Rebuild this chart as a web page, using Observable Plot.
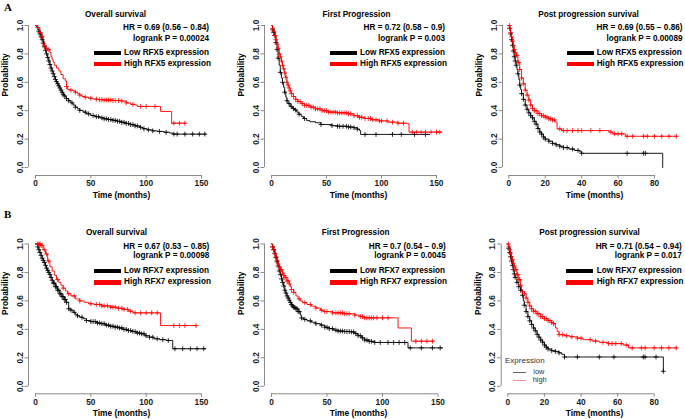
<!DOCTYPE html>
<html>
<head>
<meta charset="utf-8">
<script src="https://cdn.jsdelivr.net/npm/d3@7"></script>
<script src="https://cdn.jsdelivr.net/npm/@observablehq/plot@0.6"></script>
<style>
  html, body { margin: 0; padding: 0; background: #fff; }
  #root { position: relative; width: 685px; height: 419px; overflow: hidden; font-family: "Liberation Sans", Arial, sans-serif; }
  .panel { position: absolute; }
  .panel svg { position: absolute; left: 0; top: 0; }
  .ov { position: absolute; white-space: nowrap; line-height: 1; }
  .bar { position: absolute; }
  .letter { position: absolute; font-family: "Liberation Serif", "Times New Roman", serif; font-weight: bold; font-size: 11px; line-height: 1; }
</style>
</head>
<body>
<div id="root"></div>
<script>
// ---------------- DATA ----------------
const panelTitles = ["Overall survival", "First Progression", "Post progression survival"];
const genes = ["RFX5", "RFX7"];
const hrLabels = [
  "HR = 0.69 (0.56 \u2212 0.84)", "HR = 0.72 (0.58 \u2212 0.9)", "HR = 0.69 (0.55 \u2212 0.86)",
  "HR = 0.67 (0.53 \u2212 0.85)", "HR = 0.7 (0.54 \u2212 0.9)", "HR = 0.71 (0.54 \u2212 0.94)"
];
const pLabels = [
  "logrank P = 0.00024", "logrank P = 0.003", "logrank P = 0.00089",
  "logrank P = 0.00098", "logrank P = 0.0045", "logrank P = 0.017"
];
const yTicks = [0, 0.2, 0.4, 0.6, 0.8, 1];
const xTicksLong = [0, 50, 100, 150];
const xTicksShort = [0, 20, 40, 60, 80];

// Kaplan-Meier step curves [time (months), probability]
const rfx5OsLow = [[0,1],[1,0.99],[2,0.975],[3,0.96],[4,0.94],[5,0.92],[6,0.9],[7,0.875],[8,0.85],[9,0.825],[10,0.8],[11,0.775],[12,0.75],[13,0.725],[14,0.7],[15,0.68],[16,0.66],[17,0.64],[18,0.62],[19,0.605],[20,0.59],[21,0.575],[22,0.56],[23,0.545],[24,0.53],[25,0.515],[26,0.505],[27,0.495],[28,0.485],[30,0.47],[32,0.455],[34,0.44],[36,0.425],[38,0.413],[40,0.402],[43,0.39],[46,0.378],[50,0.366],[54,0.358],[58,0.35],[62,0.343],[66,0.338],[70,0.332],[74,0.325],[78,0.318],[82,0.31],[86,0.302],[90,0.293],[94,0.283],[97,0.273],[101,0.265],[106,0.258],[110,0.254],[116,0.248],[121,0.243],[124,0.235],[154,0.235]];
const rfx5OsHigh = [[0,1],[2,0.985],[4,0.95],[6,0.92],[7,0.89],[8,0.86],[9,0.84],[11,0.83],[13,0.81],[14,0.78],[15,0.76],[16,0.74],[17,0.72],[19,0.7],[21,0.68],[23,0.655],[25,0.625],[27,0.61],[28,0.57],[29,0.55],[31,0.545],[34,0.54],[36,0.53],[38,0.52],[40,0.51],[42,0.5],[45,0.495],[48,0.488],[52,0.482],[56,0.478],[62,0.475],[70,0.472],[78,0.468],[82,0.455],[86,0.445],[90,0.44],[92,0.43],[113,0.395],[123,0.312],[136,0.312]];
const rfx5FpLow = [[0,1],[1,0.97],[2,0.95],[3,0.93],[4,0.88],[5,0.83],[6,0.77],[7,0.72],[8,0.67],[9,0.63],[10,0.6],[11,0.565],[12,0.53],[13,0.495],[14,0.47],[15,0.45],[17,0.43],[19,0.415],[21,0.405],[23,0.39],[25,0.375],[27,0.36],[29,0.345],[32,0.33],[35,0.322],[40,0.315],[45,0.303],[55,0.295],[60,0.29],[70,0.285],[75,0.28],[78,0.27],[80,0.26],[81,0.233],[144,0.233]];
const rfx5FpHigh = [[0,1],[1,0.98],[2,0.96],[3,0.93],[4,0.9],[5,0.87],[6,0.84],[7,0.8],[8,0.78],[9,0.75],[10,0.72],[11,0.695],[12,0.665],[13,0.635],[14,0.6],[15,0.58],[16,0.56],[17,0.54],[18,0.52],[20,0.5],[22,0.48],[24,0.465],[27,0.45],[30,0.438],[35,0.425],[40,0.413],[46,0.4],[52,0.39],[60,0.385],[70,0.378],[75,0.365],[79,0.354],[85,0.345],[91,0.336],[98,0.328],[106,0.319],[115,0.312],[123,0.308],[125,0.249],[155,0.249]];
const rfx5PpsLow = [[0,1],[0.5,0.98],[1,0.94],[1.5,0.9],[2,0.86],[2.5,0.82],[3,0.78],[3.5,0.75],[4,0.72],[4.5,0.69],[5,0.66],[5.5,0.62],[6,0.58],[6.5,0.55],[7,0.52],[8,0.48],[9,0.44],[10,0.41],[11,0.385],[12,0.365],[13,0.35],[14,0.325],[15,0.305],[16,0.275],[17,0.25],[18,0.235],[19,0.215],[20,0.2],[22,0.185],[24,0.17],[26,0.16],[28,0.15],[30,0.14],[33,0.13],[36,0.12],[39,0.11],[40,0.1],[84.5,0]];
const rfx5PpsHigh = [[0,1],[0.5,0.98],[1,0.95],[1.5,0.92],[2,0.89],[2.5,0.86],[3,0.83],[3.5,0.81],[4,0.79],[5,0.74],[6,0.69],[7,0.63],[8,0.59],[9,0.545],[10,0.51],[11,0.475],[12,0.44],[13,0.415],[14,0.4],[16,0.38],[18,0.365],[20,0.355],[22,0.343],[24,0.335],[25.5,0.32],[26.5,0.272],[29,0.26],[55,0.25],[57,0.237],[64,0.22],[92.5,0.22]];
const rfx7OsLow = [[0,1],[2,0.98],[3,0.96],[4,0.94],[5,0.92],[6,0.9],[7,0.885],[8,0.87],[9,0.85],[10,0.83],[11,0.815],[12,0.8],[13,0.785],[14,0.765],[15,0.745],[16,0.725],[18,0.7],[20,0.675],[22,0.65],[24,0.63],[26,0.61],[28,0.59],[30,0.545],[32,0.535],[34,0.52],[36,0.505],[38,0.495],[40,0.485],[43,0.475],[46,0.462],[50,0.455],[55,0.445],[59,0.44],[63,0.43],[67,0.422],[71,0.416],[75,0.41],[79,0.4],[83,0.392],[87,0.385],[91,0.375],[95,0.369],[99,0.355],[103,0.345],[107,0.334],[112,0.328],[118,0.322],[124,0.264],[154,0.264]];
const rfx7OsHigh = [[0,1],[5,0.99],[7,0.96],[9,0.93],[11,0.88],[13,0.84],[15,0.81],[17,0.78],[19,0.75],[21,0.73],[23,0.71],[25,0.69],[27,0.67],[29,0.65],[32,0.635],[36,0.614],[40,0.6],[44,0.59],[48,0.58],[53,0.575],[60,0.565],[68,0.556],[74,0.548],[80,0.54],[84,0.528],[88,0.516],[113,0.427],[146,0.427]];
const rfx7FpLow = [[0,1],[1,0.98],[2,0.96],[3,0.935],[4,0.905],[5,0.875],[6,0.845],[7,0.81],[8,0.785],[9,0.755],[10,0.73],[11,0.705],[12,0.675],[13,0.655],[14,0.635],[15,0.62],[16,0.605],[17,0.59],[18,0.575],[19,0.565],[20,0.555],[22,0.545],[24,0.525],[26,0.5],[27,0.48],[29,0.47],[32,0.46],[36,0.45],[40,0.44],[44,0.43],[48,0.415],[52,0.405],[56,0.395],[60,0.388],[66,0.385],[72,0.382],[75,0.37],[78,0.356],[81,0.34],[84,0.325],[88,0.316],[93,0.308],[123,0.27],[154,0.27]];
const rfx7FpHigh = [[0,1],[1,0.98],[2,0.96],[3,0.93],[4,0.91],[5,0.885],[6,0.86],[7,0.84],[8,0.82],[10,0.795],[11,0.78],[12,0.765],[14,0.74],[16,0.72],[17,0.7],[18,0.68],[20,0.66],[22,0.635],[24,0.615],[26,0.6],[28,0.588],[32,0.575],[36,0.563],[40,0.55],[44,0.535],[47,0.525],[55,0.516],[65,0.51],[75,0.5],[80,0.49],[84,0.481],[114,0.41],[126,0.317],[146,0.317]];
const rfx7PpsLow = [[0,1],[0.5,0.97],[1,0.94],[1.5,0.91],[2,0.88],[2.5,0.85],[3,0.82],[3.5,0.79],[4,0.765],[5,0.73],[6,0.7],[7,0.675],[8,0.64],[8.5,0.6],[9,0.57],[10,0.525],[11,0.49],[12,0.46],[13,0.435],[14,0.41],[15,0.39],[16,0.365],[17,0.345],[18,0.325],[19,0.31],[20,0.29],[21,0.275],[22,0.262],[24,0.25],[26,0.245],[28,0.235],[29.5,0.225],[31,0.206],[85,0.105]];
const rfx7PpsHigh = [[0,1],[0.5,0.98],[1,0.96],[1.5,0.935],[2,0.91],[2.5,0.89],[3,0.865],[3.5,0.845],[4,0.82],[5,0.785],[6,0.75],[7,0.71],[7.5,0.675],[8,0.665],[9,0.65],[10,0.62],[11,0.59],[12,0.565],[13,0.545],[14,0.527],[16,0.51],[18,0.49],[20,0.475],[22,0.462],[24,0.448],[25,0.44],[26,0.41],[27,0.385],[28,0.363],[31,0.355],[34,0.348],[38,0.338],[41,0.328],[46,0.318],[50,0.309],[55,0.3],[63,0.29],[66,0.27],[92.5,0.27]];

// Censoring times (months)
const rfx5OsLowCens = [3,4,5,6,7,8,9,10,11,12,13,14,15,16,17,18,19,20,21,22,23,24,25,26,28,30,33,36,40,45,48,52,55,57,60,62,64,66,68,70,72,74,76,78,80,82,84,86,88,90,92,95,98,102,106,112,118,125,128,135,142,148,153];
const rfx5OsHighCens = [2,4,6,8,10,12,28,32,36,40,45,50,55,58,60,62,64,66,68,70,72,75,78,82,88,95,100,108,125,130,135];
const rfx5FpLowCens = [1,2,3,4,5,6,8,10,12,14,16,18,20,22,25,30,45,55,60,62,65,68,70,72,75,78,85,95,110,118,130,140];
const rfx5FpHighCens = [1,2,3,4,5,6,7,8,9,10,11,12,13,14,15,16,17,18,20,22,24,26,28,30,32,34,36,38,40,42,44,46,48,50,52,54,56,58,60,62,64,66,68,70,72,75,78,80,82,85,88,90,92,95,98,100,105,110,115,120,128,132,136,140,145,150,153];
const rfx5PpsLowCens = [0.5,1,1.5,2,2.5,3,3.5,4,5,6,7,8,9,10,11,12,13,14,15,16,17,18,19,20,22,24,26,28,30,32,35,38,40,65,74,75];
const rfx5PpsHighCens = [0.3,0.6,1,1.5,2,2.5,3,3.5,4,4.5,5,5.5,6,7,8,9,10,11,12,13,14,15,16,17,18,19,20,21,22,23,24,25,28,30,32,35,38,40,45,50,56,58,60,62,65,68,74,76,80,84,88,92];
const rfx7OsLowCens = [2,3,4,5,6,7,8,9,10,11,12,13,14,15,16,17,18,19,20,21,22,23,24,25,26,27,28,30,32,35,38,42,46,50,52,54,56,58,60,62,64,66,68,70,72,74,76,78,80,82,84,86,88,90,92,94,96,98,100,103,106,110,115,120,126,133,140,146,152];
const rfx7OsHighCens = [2,3,4,5,6,8,10,12,20,25,30,35,40,50,55,58,60,62,65,68,70,72,75,78,80,83,86,90,95,100,105,110,125,130,135,145];
const rfx7FpLowCens = [1,2,3,4,5,6,7,8,9,10,11,12,13,14,15,16,17,18,19,20,21,22,23,24,25,27,30,35,40,45,48,50,52,55,58,60,62,64,66,68,70,72,74,76,78,80,82,84,86,88,90,93,98,105,110,115,120,125,135,145,152];
const rfx7FpHighCens = [1,2,3,4,5,6,7,8,9,10,11,12,13,14,15,16,18,20,25,30,35,40,45,48,50,55,58,60,62,64,66,68,70,75,80,82,84,86,88,90,92,95,100,105,130,135,140,145];
const rfx7PpsLowCens = [0.5,1,1.5,2,2.5,3,3.5,4,5,6,7,8,9,10,11,12,13,14,15,16,17,18,19,20,21,22,24,26,28,31,38,50,58,74,75,81,85];
const rfx7PpsHighCens = [0.3,0.6,1,1.5,2,2.5,3,3.5,4,4.5,5,5.5,6,6.5,7,8,9,10,11,12,13,14,15,16,17,18,19,20,21,22,23,24,25,28,30,32,35,38,40,45,48,52,55,57,59,62,65,68,73,75,80,84,88,92];

const expressionLegend = ["Expression", "low", "high"];

// ---------------- LAYOUT ----------------
const panels = [
  {low: rfx5OsLow, high: rfx5OsHigh, lowC: rfx5OsLowCens, highC: rfx5OsHighCens, row: 0, col: 0,
   left: 0, top: 0, w: 228, h: 200, ml: 28, mr: 27, mt: 25, mb: 25, il: 7, ib: 8, titleDx: 0.5, xlabDx: 6.5, hrRight: 209, barLeft: 94, textLeft: 124},
  {low: rfx5FpLow, high: rfx5FpHigh, lowC: rfx5FpLowCens, highC: rfx5FpHighCens, row: 0, col: 1,
   left: 228, top: 0, w: 228, h: 200, ml: 36, mr: 20, mt: 25, mb: 25, il: 7, ib: 8, titleDx: 6, xlabDx: 8, hrRight: 217, barLeft: 102, textLeft: 132},
  {low: rfx5PpsLow, high: rfx5PpsHigh, lowC: rfx5PpsLowCens, highC: rfx5PpsHighCens, row: 0, col: 2,
   left: 456, top: 0, w: 229, h: 200, ml: 46, mr: 31, mt: 25, mb: 25, il: 6.3, ib: 8, titleDx: 10, xlabDx: 16, hrRight: 226.5, barLeft: 110.7, textLeft: 140.7},
  {low: rfx7OsLow, high: rfx7OsHigh, lowC: rfx7OsLowCens, highC: rfx7OsHighCens, row: 1, col: 0,
   left: 0, top: 205, w: 228, h: 214, ml: 28, mr: 27, mt: 38.5, mb: 25.7, il: 7, ib: 7.5, titleDx: 1.5, xlabDx: 6.5, hrRight: 209.3, barLeft: 93.5, textLeft: 124},
  {low: rfx7FpLow, high: rfx7FpHigh, lowC: rfx7FpLowCens, highC: rfx7FpHighCens, row: 1, col: 1,
   left: 228, top: 205, w: 228, h: 214, ml: 36, mr: 18.5, mt: 38.5, mb: 25.7, il: 7, ib: 7.5, titleDx: 4.3, xlabDx: 7.3, hrRight: 217.7, barLeft: 101.5, textLeft: 132},
  {low: rfx7PpsLow, high: rfx7PpsHigh, lowC: rfx7PpsLowCens, highC: rfx7PpsHighCens, row: 1, col: 2,
   left: 456, top: 205, w: 229, h: 214, ml: 44.7, mr: 31.3, mt: 38.5, mb: 25.7, il: 6.6, ib: 7.5, titleDx: 11.8, xlabDx: 16.8, hrRight: 225.7, barLeft: 110, textLeft: 140.7, exprLegend: true}
];

const FONT = "'Liberation Sans', Arial, Helvetica, sans-serif";
const AXIS_COL = "#8a8a8a";
const TEXT_COL = "#1a1a1a";

function stepAt(curve, t) {
  let s = curve[0][1];
  for (const [ct, cs] of curve) { if (ct <= t) s = cs; else break; }
  return s;
}

function addText(parent, txt, o) {
  const d = document.createElement("div");
  d.className = "ov";
  d.textContent = txt;
  const size = o.size || 8.2;
  d.style.fontSize = size + "px";
  d.style.fontWeight = o.weight || "bold";
  d.style.color = o.color || "#000";
  d.style.top = (o.cy - size * 0.5) + "px";
  if (o.right != null) { d.style.right = o.right + "px"; d.style.textAlign = "right"; }
  else d.style.left = o.left + "px";
  parent.appendChild(d);
}
function addBar(parent, o) {
  const b = document.createElement("div");
  b.className = "bar";
  b.style.left = o.left + "px"; b.style.top = (o.cy - o.h / 2) + "px";
  b.style.width = o.w + "px"; b.style.height = o.h + "px";
  b.style.background = o.color;
  parent.appendChild(b);
}

const root = document.getElementById("root");

panels.forEach((p, i) => {
  const xmax = p.col === 2 ? 80 : 150;
  const xticks = p.col === 2 ? xTicksShort : xTicksLong;
  const wrap = document.createElement("div");
  wrap.className = "panel";
  Object.assign(wrap.style, {left: p.left + "px", top: p.top + "px", width: p.w + "px", height: p.h + "px"});
  root.appendChild(wrap);

  const lowCens = p.lowC.map(t => ({t, s: stepAt(p.low, t)}));
  const highCens = p.highC.map(t => ({t, s: stepAt(p.high, t)}));

  const chart = Plot.plot({
    width: p.w, height: p.h,
    marginLeft: p.ml, marginRight: p.mr, marginTop: p.mt, marginBottom: p.mb,
    x: {domain: [0, xmax], insetLeft: p.il},
    y: {domain: [0, 1], insetBottom: p.ib},
    style: {fontFamily: FONT, fontSize: "8px", fontWeight: "bold", background: "transparent", overflow: "visible", color: TEXT_COL},
    marks: [
      Plot.ruleY([0], {x1: 0, x2: xmax, dy: p.ib, stroke: AXIS_COL, strokeWidth: 1}),
      Plot.ruleX([0], {y1: 0, y2: 1, dx: -p.il, stroke: AXIS_COL, strokeWidth: 1}),
      Plot.axisX({ticks: xticks, tickSize: 3.5, tickPadding: 1.5, stroke: AXIS_COL, fill: TEXT_COL, label: null, fontSize: 8.3}),
      Plot.axisY({ticks: yTicks, tickSize: 3.5, tickPadding: 2.5, tickRotate: -90, tickFormat: d3.format(".1f"), stroke: AXIS_COL, fill: TEXT_COL, label: null, fontSize: 8.3}),
      Plot.line(p.low, {x: d => d[0], y: d => d[1], curve: "step-after", stroke: "#000", strokeWidth: 0.9}),
      Plot.line(p.high, {x: d => d[0], y: d => d[1], curve: "step-after", stroke: "#ff0000", strokeWidth: 0.9}),
      Plot.dot(lowCens, {x: "t", y: "s", symbol: "plus", r: 1.7, stroke: "#000", strokeWidth: 0.8}),
      Plot.dot(highCens, {x: "t", y: "s", symbol: "plus", r: 1.7, stroke: "#ff0000", strokeWidth: 0.8}),
      Plot.text([panelTitles[p.col]], {frameAnchor: "top", dy: p.row === 0 ? -14.5 : -15.2, dx: p.titleDx, fontSize: 8.2, fontWeight: "bold", fill: "#000"}),
      Plot.text(["Time (months)"], {frameAnchor: "bottom", dy: p.row === 0 ? 22.5 : 22.5, dx: p.xlabDx, fontSize: 8.4, fontWeight: "bold", fill: "#000"}),
      Plot.text(["Probability"], {frameAnchor: "left", rotate: -90, dx: -23, dy: -4, fontSize: 8.4, fontWeight: "bold", fill: "#000"})
    ]
  });
  wrap.appendChild(chart);

  // HR / logrank / legend block (upper right)
  const y1 = p.mt; // pixel row of probability 1.0
  const off = p.row === 0 ? [3.5, 14, 28, 39] : [3.2, 13, 27.6, 38.8];
  addText(wrap, hrLabels[i], {right: p.w - p.hrRight, cy: y1 + off[0]});
  addText(wrap, pLabels[i], {right: p.w - p.hrRight, cy: y1 + off[1]});
  addBar(wrap, {left: p.barLeft, cy: y1 + off[2], w: 27, h: 4.5, color: "#000"});
  addBar(wrap, {left: p.barLeft, cy: y1 + off[3], w: 27, h: 4.5, color: "#ff0000"});
  addText(wrap, `Low ${genes[p.row]} expression`, {left: p.textLeft, cy: y1 + off[2]});
  addText(wrap, `High ${genes[p.row]} expression`, {left: p.textLeft, cy: y1 + off[3]});

  if (p.exprLegend) {
    addText(wrap, expressionLegend[0], {left: 49, cy: 155.5, size: 8, weight: "normal", color: "#333"});
    addBar(wrap, {left: 57.3, cy: 167, w: 12.7, h: 0.8, color: "#666"});
    addText(wrap, expressionLegend[1], {left: 77.3, cy: 166.8, size: 7.4, weight: "normal", color: "#333"});
    addBar(wrap, {left: 57.3, cy: 175, w: 12.7, h: 0.9, color: "#ff8c8c"});
    addText(wrap, expressionLegend[2], {left: 76.7, cy: 175, size: 7.4, weight: "normal", color: "#333"});
  }
});

// panel letters
["A", "B"].forEach((L, k) => {
  const d = document.createElement("div");
  d.className = "letter";
  d.textContent = L;
  d.style.left = "4px";
  d.style.top = (k === 0 ? 2 : 209) + "px";
  root.appendChild(d);
});
</script>
</body>
</html>
